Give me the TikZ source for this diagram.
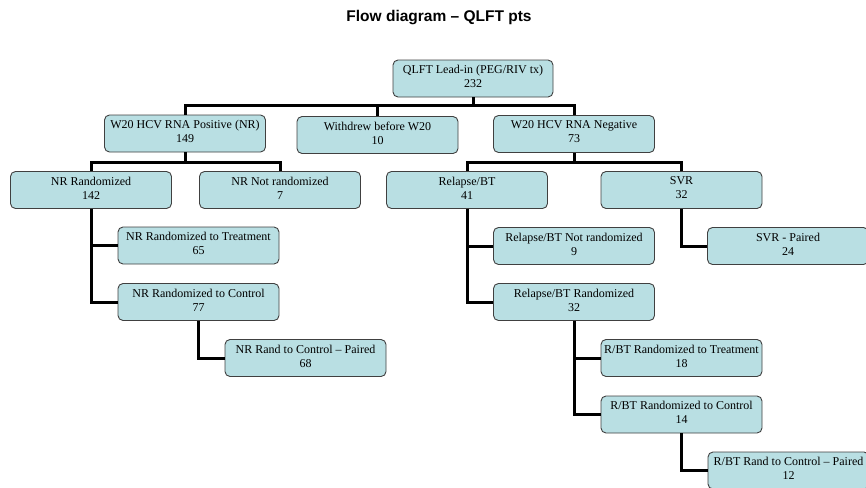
\documentclass[tikz,border=0pt]{standalone}
\usepackage{fontspec}
\setmainfont{Liberation Serif}
\newfontfamily\headfont{Liberation Sans}
\usepackage{xcolor}
\usepackage{tikz}
\definecolor{boxfill}{RGB}{185,223,227}
\definecolor{boxline}{RGB}{64,64,64}
\tikzset{
    flowbox/.style = {draw=boxline, fill=boxfill, line width=0.9pt, rounded corners=5pt,
        minimum width=161pt, minimum height=37pt, align=center, inner sep=2pt,
        font=\fontsize{12}{14}\selectfont,
        execute at end node={\rule[-4pt]{0pt}{4pt}}},
    link/.style = {line width=3pt, black},
}

\begin{document}
\begin{tikzpicture}[x=1pt, y=-1pt]
\useasboundingbox (0,0) rectangle (866,487);
\node[font=\headfont\bfseries\fontsize{15.5}{18}\selectfont] (title) at (439,18) {Flow diagram – QLFT pts};

\node[flowbox, minimum width=160pt] (lead) at (473,78.5) {QLFT Lead-in (PEG/RIV tx)\\232};

\node[flowbox] (pos) at (185,133.5) {W20 HCV RNA Positive (NR)\\149};
\node[flowbox] (wd) at (377.5,135) {Withdrew before W20\\10};
\node[flowbox] (neg) at (574,134) {W20 HCV RNA Negative\\73};
\coordinate (bus1) at (473,105);
\draw[link] (lead.south) -- (bus1);
\draw[link] (pos.north) |- (bus1);
\draw[link] (wd.north) |- (bus1);
\draw[link] (neg.north) |- (bus1);

\node[flowbox] (nrr) at (91,190) {NR Randomized\\142};
\node[flowbox] (nrn) at (280,190) {NR Not randomized\\7};
\coordinate (bus2) at (185,162);
\draw[link] (pos.south) -- (bus2);
\draw[link] (nrr.north) |- (bus2);
\draw[link] (nrn.north) |- (bus2);

\node[flowbox] (rbt) at (467,190) {Relapse/BT\\41};
\node[flowbox] (svr) at (681.5,190) {SVR\\32};
\coordinate (bus3) at (574,162);
\draw[link] (neg.south) -- (bus3);
\draw[link] (rbt.north) |- (bus3);
\draw[link] (svr.north) |- (bus3);

\node[flowbox] (nrt) at (198.5,245.5) {NR Randomized to Treatment\\65};
\node[flowbox] (nrc) at (198.5,302) {NR Randomized to Control\\77};
\draw[link] (nrr.south) |- (nrt.west);
\draw[link] (nrr.south) |- (nrc.west);

\node[flowbox] (nrp) at (305.5,358) {NR Rand to Control – Paired\\68};
\draw[link] (nrc.south) |- (nrp.west);

\node[flowbox] (rbn) at (574,246) {Relapse/BT Not randomized\\9};
\node[flowbox] (rbr) at (574,302) {Relapse/BT Randomized\\32};
\draw[link] (rbt.south) |- (rbn.west);
\draw[link] (rbt.south) |- (rbr.west);

\node[flowbox] (svrp) at (788,246) {SVR - Paired\\24};
\draw[link] (svr.south) |- (svrp.west);

\node[flowbox] (rt) at (681.5,358) {R/BT Randomized to Treatment\\18};
\node[flowbox] (rc) at (681.5,414.5) {R/BT Randomized to Control\\14};
\draw[link] (rbr.south) |- (rt.west);
\draw[link] (rbr.south) |- (rc.west);

\node[flowbox] (rp) at (788.5,470.5) {R/BT Rand to Control – Paired\\12};
\draw[link] (rc.south) |- (rp.west);
\end{tikzpicture}
\end{document}
